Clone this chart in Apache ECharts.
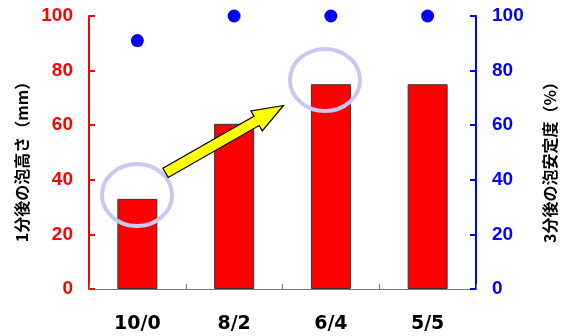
<!DOCTYPE html>
<html><head><meta charset="utf-8">
<script src="https://cdn.jsdelivr.net/npm/echarts@6/dist/echarts.min.js"></script>
<style>html,body{margin:0;padding:0;background:#fff}#c{width:570px;height:336px}</style>
</head><body><div id="c"></div>
<script>
var categories = ['10/0', '8/2', '6/4', '5/5'];
var foamHeight = [33, 60.5, 75, 75];
var foamStability = [91, 100, 100, 100];
var yTicks = [0, 20, 40, 60, 80, 100];
var leftTitle = '1分後の泡高さ（mm）';
var rightTitle = '3分後の泡安定度（%）';

var chart = echarts.init(document.getElementById('c'));
var numFont = '"Liberation Sans", Arial, sans-serif';
var xFont = '"DejaVu Sans", sans-serif';
var jpFont = '"Noto Sans CJK JP", sans-serif';

function arrowPoints(tail, tip, shaftHalf, headHalf, headLen) {
  var dx = tip[0] - tail[0], dy = tip[1] - tail[1];
  var L = Math.sqrt(dx * dx + dy * dy);
  var ux = dx / L, uy = dy / L, nx = -uy, ny = ux;
  var bx = tip[0] - ux * headLen, by = tip[1] - uy * headLen;
  return [
    [tail[0] + nx * shaftHalf, tail[1] + ny * shaftHalf],
    [bx + nx * shaftHalf, by + ny * shaftHalf],
    [bx + nx * headHalf, by + ny * headHalf],
    tip,
    [bx - nx * headHalf, by - ny * headHalf],
    [bx - nx * shaftHalf, by - ny * shaftHalf],
    [tail[0] - nx * shaftHalf, tail[1] - ny * shaftHalf]
  ];
}

var yAxisBase = function (pos, color, name, gap, pad) {
  return {
    type: 'value', position: pos, min: yTicks[0], max: yTicks[yTicks.length - 1], interval: 20,
    axisLine: { show: true, lineStyle: { color: color, width: 2 } },
    axisTick: { show: true, inside: true, length: 6, lineStyle: { color: color, width: 2 } },
    axisLabel: { color: color, fontWeight: 'bold', fontSize: 19, fontFamily: numFont, margin: 16 },
    splitLine: { show: false },
    name: name, nameLocation: 'middle', nameGap: gap, nameRotate: 90,
    nameTextStyle: { color: '#000', fontWeight: 'bold', fontSize: 16, fontFamily: jpFont, padding: pad }
  };
};

chart.setOption({
  animation: false,
  grid: { left: 89, right: 94, top: 16, bottom: 47 },
  xAxis: {
    type: 'category', data: categories, boundaryGap: true,
    axisLine: { lineStyle: { color: '#777', width: 1 } },
    axisTick: { show: true, inside: true, length: 5, lineStyle: { color: '#777' } },
    axisLabel: { color: '#000', fontWeight: 'bold', fontSize: 19, fontFamily: xFont, margin: 26 }
  },
  yAxis: [
    yAxisBase('left', '#ff0000', leftTitle, 58, [0, 11, 0, 0]),
    yAxisBase('right', '#0000ff', rightTitle, 66, [0, 12, 0, 0])
  ],
  series: [
    {
      type: 'bar', data: foamHeight, yAxisIndex: 0, barWidth: 40,
      itemStyle: { color: '#ff0000', borderColor: '#333', borderWidth: 1 }
    },
    {
      type: 'scatter', data: foamStability, yAxisIndex: 1, symbolSize: 13, clip: false,
      itemStyle: { color: '#0000ff', opacity: 1 }, z: 5
    }
  ]
});

chart.setOption({
  graphic: [
    { type: 'ellipse', z: 100, shape: { cx: 137, cy: 195, rx: 35, ry: 31 },
      style: { fill: 'none', stroke: '#c8c8f2', lineWidth: 4 } },
    { type: 'ellipse', z: 100, shape: { cx: 325, cy: 80, rx: 35, ry: 31 },
      style: { fill: 'none', stroke: '#c8c8f2', lineWidth: 4 } },
    { type: 'polygon', z: 101, shape: { points: arrowPoints([165.5, 172.8], [283.5, 105.5], 5.3, 11.5, 31) },
      style: { fill: '#ffff00', stroke: '#000', lineWidth: 1.2 } }
  ]
});
</script></body></html>
